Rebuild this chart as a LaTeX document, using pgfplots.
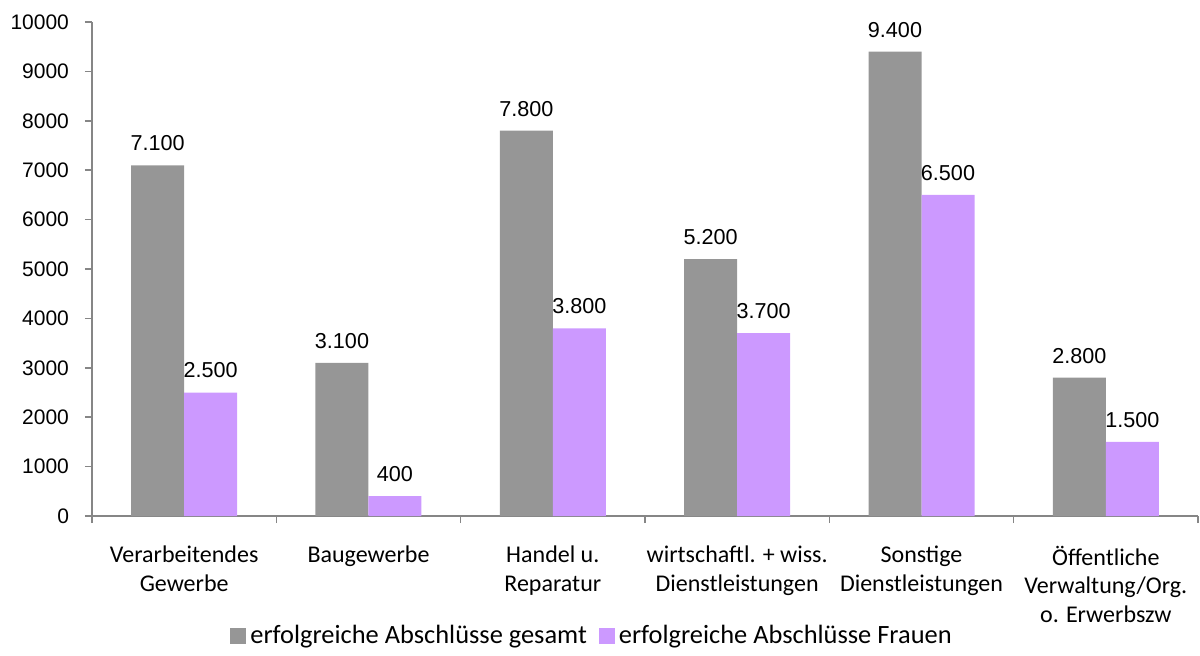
\documentclass[border=0pt]{standalone}
\usepackage{fontspec}
\setmainfont{Carlito}
\newfontfamily\arial{Liberation Sans}
\usepackage{pgfplots}
\pgfplotsset{compat=1.18}
\definecolor{gesamt}{HTML}{969696}
\definecolor{frauen}{HTML}{CC99FF}
\definecolor{axgray}{HTML}{868686}

\begin{document}
\begin{tikzpicture}
\begin{axis}[
    name=ax,
    scale only axis,
    width=553pt, height=247pt,
    ybar=0pt, bar width=26.5pt,
    xmin=-0.5, xmax=5.5, ymin=0, ymax=10000,
    scaled y ticks=false,
    axis x line=bottom, axis y line=left,
    axis line style={-, draw=axgray, line width=0.8pt},
    tick align=outside,
    xtick={0,...,5},
    xticklabels={Verarbeitendes\\Gewerbe, Baugewerbe, Handel u.\\Reparatur,
        wirtschaftl. + wiss.\\Dienstleistungen, Sonstige\\Dienstleistungen,
        Öffentliche\\Verwaltung/Org.\\o. Erwerbszw},
    major x tick style={draw=none},
    minor xtick={-0.5,0.5,...,5.5},
    minor tick length=3.5pt,
    minor x tick style={draw=axgray, line width=0.8pt},
    xticklabel style={align=center, font=\fontsize{12}{14.2}\selectfont, yshift=-8pt},
    ytick={0,1000,...,10000},
    major tick length=3.5pt,
    major y tick style={draw=axgray, line width=0.8pt},
    yticklabel style={font=\arial\fontsize{10.5}{12}\selectfont, xshift=-4.5pt,
        /pgf/number format/assume math mode=true,
        /pgf/number format/1000 sep={}},
    nodes near coords={\pgfmathprintnumber[1000 sep={.}]{\pgfplotspointmeta}},
    every node near coord/.append style={font=\arial\fontsize{10.8}{12}\selectfont,
        anchor=center, yshift=11pt, text=black,
        /pgf/number format/assume math mode=true},
    legend style={draw=none, legend columns=2, at={(0.453,0)}, anchor=center,
        yshift=-60pt, font=\fontsize{13.2}{15}\selectfont,
        /tikz/every even column/.append style={column sep=4pt}},
    legend image code/.code={\fill[#1] (0pt,-4pt) rectangle (8pt,4pt);},
]
\addplot[fill=gesamt, draw=none]
    coordinates {(0,7100)(1,3100)(2,7800)(3,5200)(4,9400)(5,2800)};
\addlegendentry{erfolgreiche Abschlüsse gesamt}
\addplot[fill=frauen, draw=none]
    coordinates {(0,2500)(1,400)(2,3800)(3,3700)(4,6500)(5,1500)};
\addlegendentry{erfolgreiche Abschlüsse Frauen}
\end{axis}
\pgfresetboundingbox
\path ([xshift=-46pt,yshift=-69.5pt]ax.south west) rectangle ([xshift=1pt,yshift=11pt]ax.north east);
\end{tikzpicture}
\end{document}
